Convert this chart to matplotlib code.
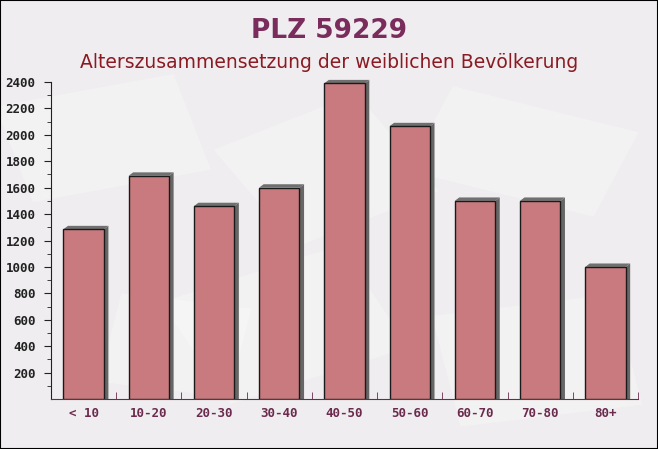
import matplotlib
matplotlib.use("Agg")
import matplotlib.pyplot as plt
from matplotlib.patches import Polygon, Rectangle
import matplotlib.transforms as mtransforms

categories = ["< 10", "10-20", "20-30", "30-40", "40-50", "50-60", "60-70", "70-80", "80+"]
values = [1285, 1690, 1460, 1600, 2390, 2065, 1500, 1500, 1000]
yticks = list(range(200, 2401, 200))

title = "PLZ 59229"
subtitle = "Alterszusammensetzung der weiblichen Bevölkerung"

fig = plt.figure(figsize=(6.58, 4.49), dpi=100)
fig.patch.set_facecolor("#efedef")

# faint envelope shapes in the background
for (x, y, w, h, ang) in [(0.05, 0.55, 0.28, 0.22, 15), (0.62, 0.62, 0.3, 0.2, -20),
                          (0.35, 0.1, 0.3, 0.25, 25), (0.7, 0.05, 0.28, 0.25, 10),
                          (0.15, 0.15, 0.2, 0.2, -10), (0.45, 0.45, 0.25, 0.25, 30)]:
    r = Rectangle((x, y), w, h, facecolor="white", edgecolor="none", alpha=0.3, zorder=-5,
                  transform=mtransforms.Affine2D().rotate_deg_around(x, y, ang) + fig.transFigure)
    fig.patches.append(r)

ax = fig.add_axes([51 / 658, 50 / 449, 587 / 658, 317 / 449])
ax.set_facecolor("none")

x = range(len(categories))
w = 0.62
ax.bar(x, values, width=w, color="#c97a7e", edgecolor="#1a1a1a", linewidth=1, zorder=3)

# 3D shadow on right and top
dx, dy = 0.07, 26
for i, v in enumerate(values):
    r = i + w / 2
    l = i - w / 2
    side = Polygon([(r, 0), (r + dx, 0), (r + dx, v + dy), (r, v)], closed=True,
                   facecolor="#666666", edgecolor="none", zorder=2, clip_on=False)
    top = Polygon([(l, v), (l + dx, v + dy), (r + dx, v + dy), (r, v)], closed=True,
                  facecolor="#707070", edgecolor="none", zorder=2, clip_on=False)
    ax.add_patch(side)
    ax.add_patch(top)

ax.set_xlim(-0.5, len(categories) - 0.5)
ax.set_ylim(0, 2400)
ax.set_yticks(yticks)
ax.set_yticks(range(100, 2400, 200), minor=True)
ax.set_xticks(list(x))
ax.set_xticklabels(categories)
minor_x = []
for b in range(len(categories)):
    minor_x += [b + 0.5 - 0.17, b + 0.5]
ax.set_xticks(minor_x, minor=True)

for s in ["top", "right"]:
    ax.spines[s].set_visible(False)
ax.spines["left"].set_color("#222222")
ax.spines["bottom"].set_color("#6b2a4e")

ax.tick_params(axis="y", which="major", length=5, color="#222222", labelsize=9, labelcolor="#222222", pad=6)
ax.tick_params(axis="y", which="minor", length=3, color="#222222")
ax.tick_params(axis="x", which="major", length=0, labelsize=9, labelcolor="#6b2a4e", pad=6)
ax.tick_params(axis="x", which="minor", direction="in", length=5, color="#6b2a4e")
for lab in ax.get_yticklabels() + ax.get_xticklabels():
    lab.set_family("DejaVu Sans Mono")
    lab.set_fontweight("bold")

fig.text(0.5, 0.93, title, ha="center", va="center", fontsize=19, fontweight="bold", color="#7a2d5c")
fig.text(0.5, 0.86, subtitle, ha="center", va="center", fontsize=13.5, color="#8b1a22")

border = Rectangle((0, 0), 1, 1, transform=fig.transFigure, fill=False, edgecolor="black", linewidth=1.5)
fig.patches.append(border)

fig.savefig("out.png", dpi=100, facecolor=fig.get_facecolor())
